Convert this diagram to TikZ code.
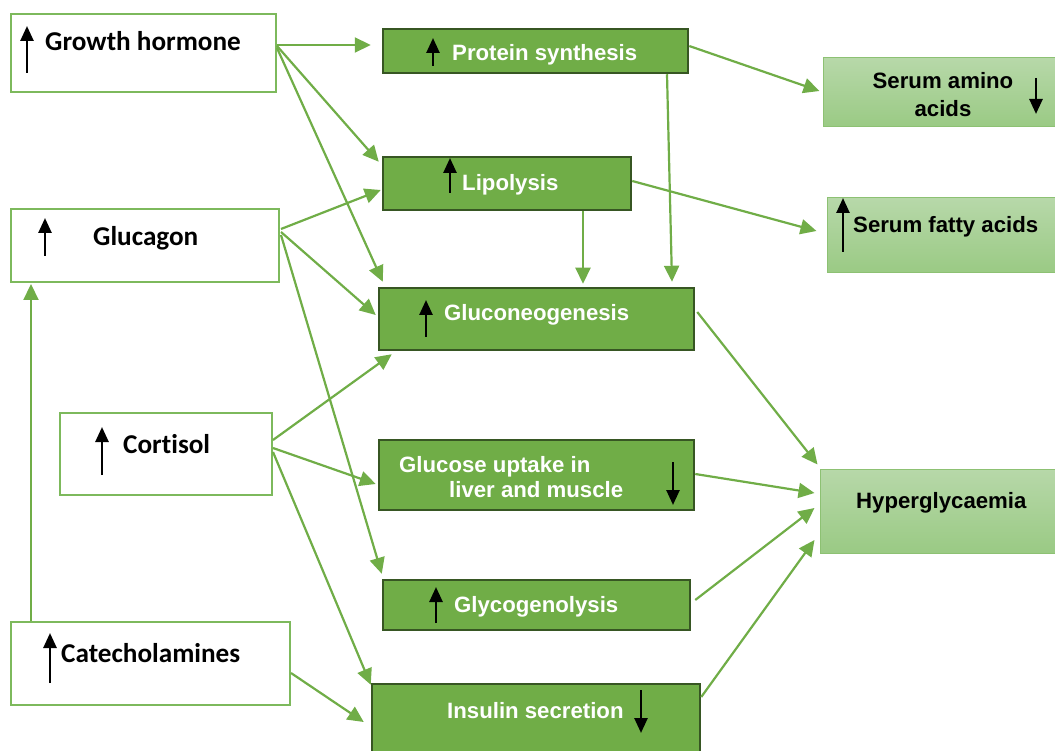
\documentclass[tikz,border=0pt]{standalone}
\usepackage{fontspec}
\setmainfont{Liberation Sans}
\newfontfamily\calibfont{Carlito}[Ligatures=NoCommon]
\newfontfamily\arialfont{Liberation Sans}
\usetikzlibrary{arrows.meta,calc}
\definecolor{lineg}{HTML}{70AD47}
\definecolor{boxg}{HTML}{70AD47}
\definecolor{darkg}{HTML}{375623}
\definecolor{lboxtop}{HTML}{B7D8A9}
\definecolor{lboxbot}{HTML}{9ACA84}
\definecolor{lboxborder}{HTML}{8DC173}
\definecolor{leftborder}{HTML}{7DB95C}
\tikzset{
  hormone/.style={draw=leftborder, line width=2pt, fill=white, inner sep=0pt},
  process/.style={draw=darkg, line width=2.5pt, fill=boxg, inner sep=0pt},
  outcome/.style={draw=lboxborder, line width=1pt, top color=lboxtop, bottom color=lboxbot, inner sep=0pt},
  conn/.style={draw=lineg, line width=2.2pt, -{Triangle[length=16pt,width=15pt]}},
  updown/.style={line width=2.6pt, -{Triangle[length=15pt,width=13pt]}},
  htext/.style={font=\calibfont\bfseries\fontsize{27.2}{32}\selectfont, inner sep=0pt, anchor=base west},
  ptext/.style={font=\arialfont\bfseries\fontsize{22.2}{26}\selectfont, text=white, inner sep=0pt, anchor=base west},
  otext/.style={font=\arialfont\bfseries\fontsize{22.2}{26}\selectfont, inner sep=0pt, anchor=base west},
}
\begin{document}
\begin{tikzpicture}[x=1pt,y=-1pt]
\useasboundingbox (0,0) rectangle (1055,751);
% hormone boxes
\node[hormone, minimum width=265pt, minimum height=78pt] (gh) at (143.5,53) {};
\node[hormone, minimum width=268pt, minimum height=73pt] (glu) at (145,245.5) {};
\node[hormone, minimum width=212pt, minimum height=82pt] (cor) at (166,454) {};
\node[hormone, minimum width=279pt, minimum height=83pt] (cat) at (150.5,663.5) {};
% process boxes
\node[process, minimum width=305pt, minimum height=44pt] (prot) at (535.5,51) {};
\node[process, minimum width=248pt, minimum height=53pt] (lip) at (507,183.5) {};
\node[process, minimum width=315pt, minimum height=62pt] (gng) at (536.5,319) {};
\node[process, minimum width=315pt, minimum height=70pt] (upt) at (536.5,475) {};
\node[process, minimum width=307pt, minimum height=50pt] (gly) at (536.5,605) {};
\node[process, minimum width=328pt, minimum height=80pt] (ins) at (536,724) {};
% outcome boxes
\node[outcome, minimum width=237pt, minimum height=69pt] (amino) at (941.5,92.5) {};
\node[outcome, minimum width=233pt, minimum height=75pt] (fatty) at (943.5,235.5) {};
\node[outcome, minimum width=240pt, minimum height=84pt] (hyper) at (940,511) {};

% texts
\node[htext] (tgh) at (45,51) {Growth hormone};
\node[htext] (tglu) at (93,246) {Glucagon};
\node[htext] (tcor) at (123,453) {Cortisol};
\node[htext] (tcat) at (61,662) {Catecholamines};
\node[ptext] (tprot) at (452,61) {Protein synthesis};
\node[ptext] (tlip) at (462,191) {Lipolysis};
\node[ptext] (tgng) at (444,320) {Gluconeogenesis};
\node[ptext] (tupt1) at (399,472) {Glucose uptake in};
\node[ptext] (tupt2) at (449,497) {liver and muscle};
\node[ptext] (tgly) at (454,612) {Glycogenolysis};
\node[ptext] (tins) at (447,718) {Insulin secretion};
\node[otext, anchor=base] (tam1) at (943,89) {Serum amino};
\node[otext, anchor=base] (tam2) at (943,117) {acids};
\node[otext] (tfat) at (853,233) {Serum fatty acids};
\node[otext] (thyp) at (856,508) {Hyperglycaemia};

% up / down indicator arrows
\draw[updown] (27,73) -- (27,26);
\draw[updown] (45,256) -- (45,218);
\draw[updown] (102,475) -- (102,427);
\draw[updown] (50,683) -- (50,633);
\draw[updown] (433,66) -- (433,38);
\draw[updown] (450,193) -- (450,158);
\draw[updown] (426,337) -- (426,300);
\draw[updown] (673,462) -- (673,505);
\draw[updown] (436,623) -- (436,587);
\draw[updown] (641,690) -- (641,733);
\draw[updown] (1036,78) -- (1036,114);
\draw[updown] (843,252) -- (843,198);

% connectors
\draw[conn] ($(gh.east)+(0,-8)$) -- ($(prot.west)+(-11,-6)$);
\draw[conn] ($(gh.east)+(0,-7)$) -- ($(lip.north west)+(-3,6)$);
\draw[conn] ($(gh.east)+(0,-5)$) -- ($(gng.north west)+(5,-5)$);
\draw[conn] ($(glu.east)+(1,-16.5)$) -- ($(lip.west)+(-1,6.5)$);
\draw[conn] ($(glu.east)+(1,-13.5)$) -- ($(gng.west)+(-2,-4)$);
\draw[conn] ($(glu.east)+(1,-10.5)$) -- ($(gly.north west)+(0,-5)$);
\draw[conn] ($(cor.east)+(0,-14)$) -- ($(gng.south west)+(14,3)$);
\draw[conn] ($(cor.east)+(0,-6)$) -- ($(upt.west)+(-2,9)$);
\draw[conn] ($(cor.east)+(0,-2)$) -- ($(ins.north west)+(0,2)$);
\draw[conn] ($(cat.east)+(0,9.5)$) -- ($(ins.west)+(-7,-2)$);
\draw[conn] ($(cat.north west)+(21,0)$) -- ($(glu.south west)+(21,1)$);
\draw[conn] ($(prot.east)+(0,-5)$) -- ($(amino.west)+(-3,-1.5)$);
\draw[conn] ($(lip.east)+(0,-2.5)$) -- ($(fatty.west)+(-10,-4.5)$);
\draw[conn] ($(lip.south)+(76,0)$) -- ($(gng.north)+(46.5,-3)$);
\draw[conn] ($(prot.south)+(131.5,0)$) -- ($(gng.north)+(135.5,-5)$);
\draw[conn] ($(gng.east)+(2,-7)$) -- ($(hyper.north west)+(-2,-4)$);
\draw[conn] ($(upt.east)+(0,-1)$) -- ($(hyper.west)+(-5,-18)$);
\draw[conn] ($(gly.east)+(4,-5)$) -- ($(hyper.west)+(-5,-3)$);
\draw[conn] ($(ins.east)+(0,-27)$) -- ($(hyper.west)+(-5,29)$);
\end{tikzpicture}
\end{document}
